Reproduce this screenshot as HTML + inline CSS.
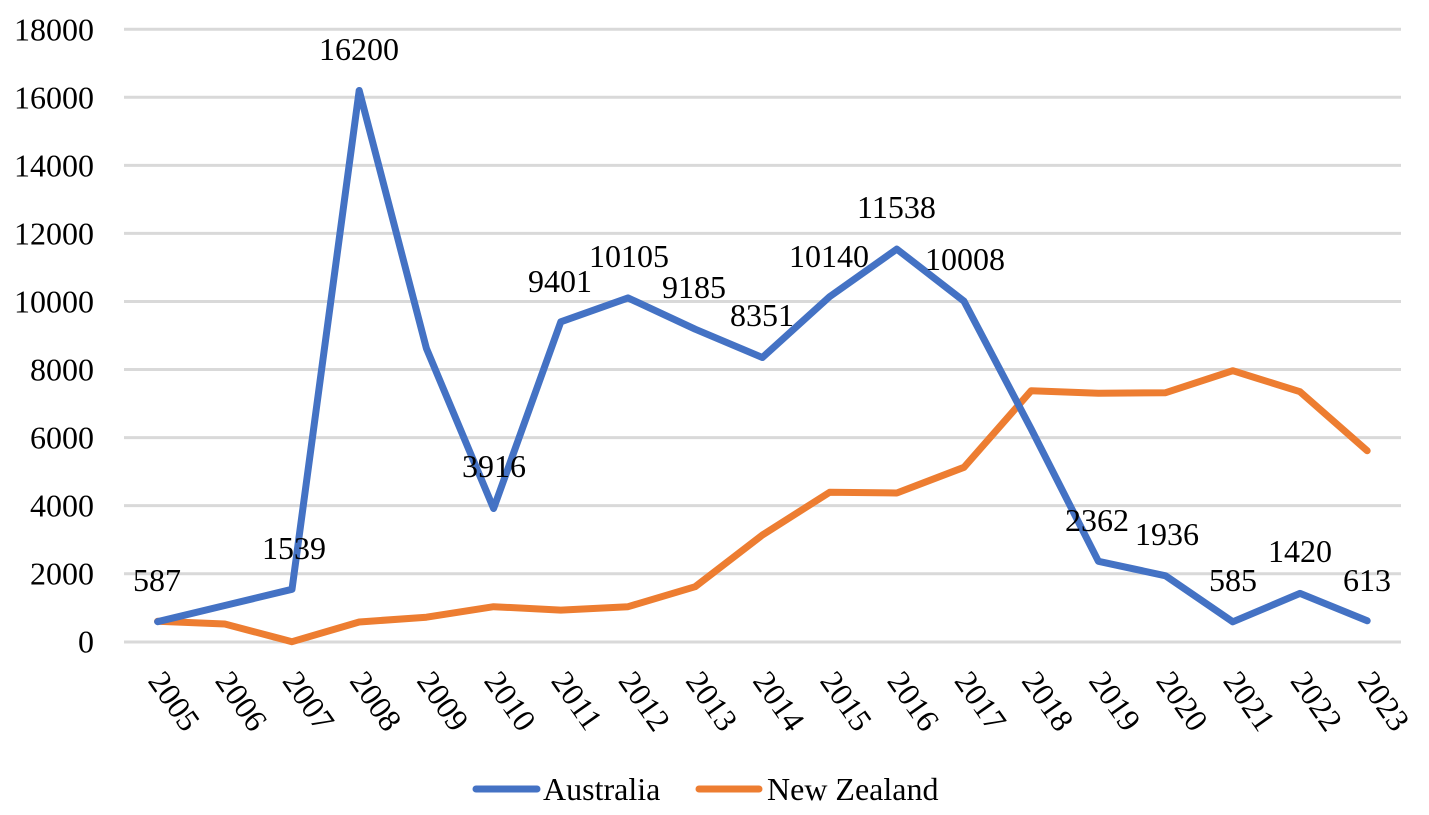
<!DOCTYPE html>
<html>
<head>
<meta charset="utf-8">
<style>
  html,body{margin:0;padding:0;background:#fff;}
  svg{display:block;}
  text{font-family:"Liberation Serif","Times New Roman",serif;font-size:32px;fill:#000;}
</style>
</head>
<body>
<svg width="1429" height="815" viewBox="0 0 1429 815" xmlns="http://www.w3.org/2000/svg">
  <rect width="1429" height="815" fill="#fff"/>
  <!-- gridlines -->
  <g stroke="#d9d9d9" stroke-width="3">
    <line x1="124" y1="29.3" x2="1401" y2="29.3"/>
    <line x1="124" y1="97.3" x2="1401" y2="97.3"/>
    <line x1="124" y1="165.4" x2="1401" y2="165.4"/>
    <line x1="124" y1="233.4" x2="1401" y2="233.4"/>
    <line x1="124" y1="301.5" x2="1401" y2="301.5"/>
    <line x1="124" y1="369.5" x2="1401" y2="369.5"/>
    <line x1="124" y1="437.6" x2="1401" y2="437.6"/>
    <line x1="124" y1="505.6" x2="1401" y2="505.6"/>
    <line x1="124" y1="573.7" x2="1401" y2="573.7"/>
    <line x1="124" y1="642" x2="1401" y2="642"/>
  </g>
  <!-- y labels -->
  <g text-anchor="end">
    <text x="94" y="40.3">18000</text>
    <text x="94" y="108.3">16000</text>
    <text x="94" y="176.4">14000</text>
    <text x="94" y="244.4">12000</text>
    <text x="94" y="312.5">10000</text>
    <text x="94" y="380.5">8000</text>
    <text x="94" y="448.6">6000</text>
    <text x="94" y="516.6">4000</text>
    <text x="94" y="584.7">2000</text>
    <text x="94" y="652.7">0</text>
  </g>
  <!-- x labels -->
  <g>
    <text transform="translate(147.1,681) rotate(55)">2005</text>
    <text transform="translate(214.3,681) rotate(55)">2006</text>
    <text transform="translate(281.5,681) rotate(55)">2007</text>
    <text transform="translate(348.7,681) rotate(55)">2008</text>
    <text transform="translate(415.9,681) rotate(55)">2009</text>
    <text transform="translate(483.1,681) rotate(55)">2010</text>
    <text transform="translate(550.3,681) rotate(55)">2011</text>
    <text transform="translate(617.5,681) rotate(55)">2012</text>
    <text transform="translate(684.7,681) rotate(55)">2013</text>
    <text transform="translate(751.9,681) rotate(55)">2014</text>
    <text transform="translate(819.1,681) rotate(55)">2015</text>
    <text transform="translate(886.3,681) rotate(55)">2016</text>
    <text transform="translate(953.5,681) rotate(55)">2017</text>
    <text transform="translate(1020.7,681) rotate(55)">2018</text>
    <text transform="translate(1087.9,681) rotate(55)">2019</text>
    <text transform="translate(1155.1,681) rotate(55)">2020</text>
    <text transform="translate(1222.3,681) rotate(55)">2021</text>
    <text transform="translate(1289.5,681) rotate(55)">2022</text>
    <text transform="translate(1356.7,681) rotate(55)">2023</text>
  </g>
  <!-- New Zealand -->
  <polyline fill="none" stroke="#ED7D31" stroke-width="7" stroke-linejoin="round" stroke-linecap="round"
    points="157.6,621.3 224.8,624.0 292.0,641.7 359.2,622.0 426.4,617.2 493.6,606.7 560.8,610.1 628.0,606.7 695.2,586.7 762.4,535.0 829.6,492.3 896.8,493.0 964.0,467.3 1031.2,390.7 1098.4,393.3 1165.6,392.7 1232.8,370.7 1300.0,391.7 1367.2,450.7"/>
  <!-- Australia -->
  <polyline fill="none" stroke="#4472C4" stroke-width="7" stroke-linejoin="round" stroke-linecap="round"
    points="157.6,621.7 224.8,605.5 292.0,589.3 359.2,90.5 426.4,348.4 493.6,508.5 560.8,321.8 628.0,297.9 695.2,329.2 762.4,357.5 829.6,296.7 896.8,249.1 964.0,301.2 1031.2,429.0 1098.4,561.3 1165.6,575.8 1232.8,621.8 1300.0,593.4 1367.2,620.8"/>
  <!-- data labels -->
  <g>
    <text x="133" y="591">587</text>
    <text x="262" y="559">1539</text>
    <text x="319" y="60">16200</text>
    <text x="462" y="477">3916</text>
    <text x="528" y="292">9401</text>
    <text x="589" y="267">10105</text>
    <text x="662" y="298">9185</text>
    <text x="730" y="326">8351</text>
    <text x="789" y="267">10140</text>
    <text x="857" y="218">11538</text>
    <text x="925" y="270">10008</text>
    <text x="1065" y="531">2362</text>
    <text x="1135" y="545">1936</text>
    <text x="1209" y="591">585</text>
    <text x="1268" y="562">1420</text>
    <text x="1343" y="591">613</text>
  </g>
  <!-- legend -->
  <line x1="476" y1="789" x2="537" y2="789" stroke="#4472C4" stroke-width="7" stroke-linecap="round"/>
  <text x="543" y="800">Australia</text>
  <line x1="699" y1="789" x2="759" y2="789" stroke="#ED7D31" stroke-width="7" stroke-linecap="round"/>
  <text x="767" y="800">New Zealand</text>
</svg>
</body>
</html>
